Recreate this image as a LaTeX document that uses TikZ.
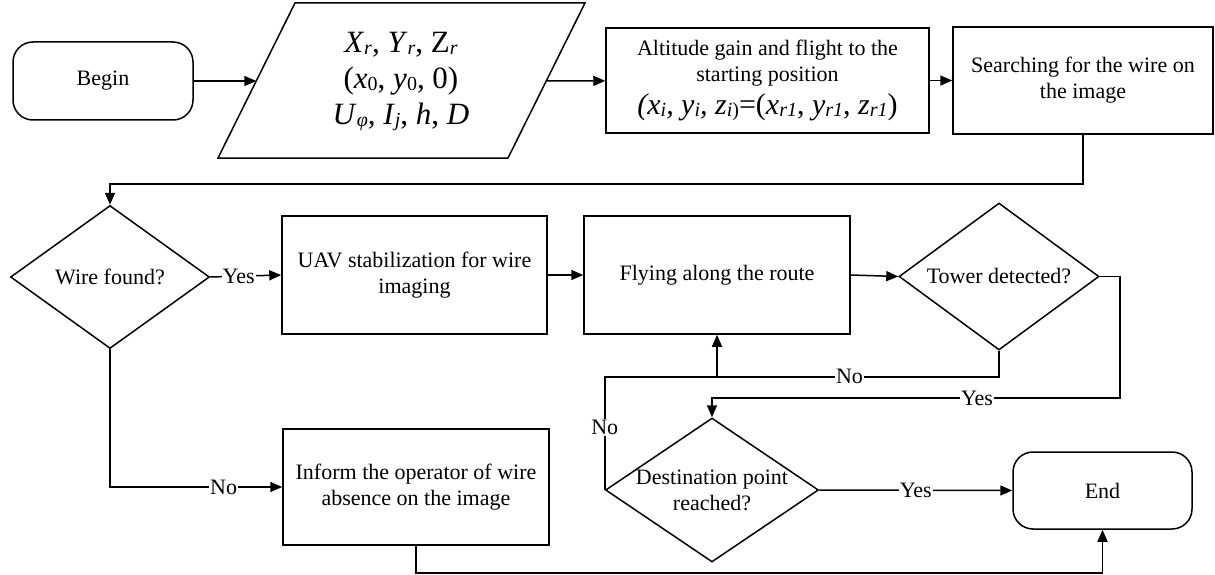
\documentclass[tikz,border=0pt]{standalone}
\usepackage{fontspec}
\setmainfont{Liberation Serif}
\usetikzlibrary{shapes.geometric,arrows.meta,calc}
\newcommand\sbx[1]{\raisebox{-2pt}{\fontsize{20}{20}\selectfont #1}}
\begin{document}
\begin{tikzpicture}[x=1pt,y=-1pt,
  every node/.style={font=\fontsize{22}{26}\selectfont},
  box/.style={draw,line width=1.5pt,rectangle,align=center,inner sep=2pt},
  term/.style={box,rounded corners=20pt},
  dec/.style={draw,line width=1.5pt,diamond,inner sep=0pt},
  arr/.style={line width=1.5pt,-{Triangle[length=12pt,width=10pt]}},
  ln/.style={line width=1.5pt},
  lbl/.style={fill=white,inner sep=1pt}]
\useasboundingbox (0,0) rectangle (1215,575);

% terminals and boxes
\node[term,minimum width=180pt,minimum height=78pt] (begin) at (103,81) {Begin};
\draw[ln] (295,3) -- (585,3) -- (508,158) -- (218,158) -- cycle;
\coordinate (parL) at (256.3,81);
\coordinate (parR) at (546.3,81);
\node[align=center,font=\fontsize{31}{36}\selectfont] (inp) at (401,81)
  {\textit{X}\sbx{\textit{r}}, \textit{Y}\sbx{\textit{r}}, Z\sbx{\textit{r}}\\
   (\textit{x}\sbx{0}, \textit{y}\sbx{0}, 0)\\
   \textit{U}\sbx{\textit{φ}}, \textit{I}\sbx{\textit{j}}, \textit{h}, \textit{D}};
\node[box,minimum width=323pt,minimum height=105pt] (alt) at (767.5,80.5)
  {Altitude gain and flight to the\\starting position\\[7pt]
   \fontsize{30}{32}\selectfont\textit{(x}\sbx{\textit{i}}\textit{, y}\sbx{\textit{i}}\textit{, z}\sbx{\textit{i})}=(\textit{x}\sbx{\textit{r1}}, \textit{y}\sbx{\textit{r1}}, \textit{z}\sbx{\textit{r1}})};
\node[box,minimum width=260pt,minimum height=107pt] (srch) at (1083,80.5)
  {Searching for the wire on\\the image};

\node[dec,minimum width=199pt,minimum height=143pt] (wire) at (110,277) {};
\node at (wire) {Wire found?};
\node[box,minimum width=265pt,minimum height=118pt] (uav) at (414.5,275)
  {UAV stabilization for wire\\imaging};
\node[box,minimum width=266pt,minimum height=118pt] (fly) at (717,275)
  {Flying along the route};
\node[dec,minimum width=200pt,minimum height=147pt] (tower) at (999,276.5) {};
\node at (tower) {Tower detected?};

\node[box,minimum width=266pt,minimum height=116pt] (inform) at (416,487)
  {Inform the operator of wire\\absence on the image};
\node[dec,minimum width=213pt,minimum height=144pt] (dest) at (712,490) {};
\node[align=center] at (dest) {Destination point\\reached?};
\node[term,minimum width=179pt,minimum height=77pt] (end) at (1102.5,490.5) {End};

% connectors
\draw[arr] (begin) -- (parL);
\draw[arr] (parR) -- (alt);
\draw[arr] (alt) -- (srch);
\draw[arr] (srch.south) -- (srch.south |- 0,184) coordinate (s1) -- (s1 -| wire.north) -- (wire.north);
\draw[arr] (wire.east) -- node[lbl,pos=0.4] {Yes} (uav.west);
\draw[arr] (uav) -- (fly);
\draw[arr] (fly.east) -- (tower.west);
\draw[arr] (tower.south) -- ++(0,26) coordinate (tn) -- node[lbl,pos=0.53] {No} (tn -| fly.south) -- (fly.south);
\draw[ln] (dest.west) -- node[lbl,pos=0.55] {No} (dest.west |- tn) -- (tn -| fly.south);
\draw[arr] (tower.east) -- ++(20,0) coordinate (ty) -- (ty |- 0,398) coordinate (ty2)
  -- node[lbl,pos=0.35] {Yes} (ty2 -| dest.north) -- (dest.north);
\draw[arr] (wire.south) -- (wire.south |- inform.west) -- node[lbl,pos=0.66] {No} (inform.west);
\draw[arr] (dest.east) -- node[lbl] {Yes} (end.west);
\draw[arr] (inform.south) -- (inform.south |- 0,573) coordinate (b1) -- (b1 -| end.south) -- (end.south);
\end{tikzpicture}
\end{document}
